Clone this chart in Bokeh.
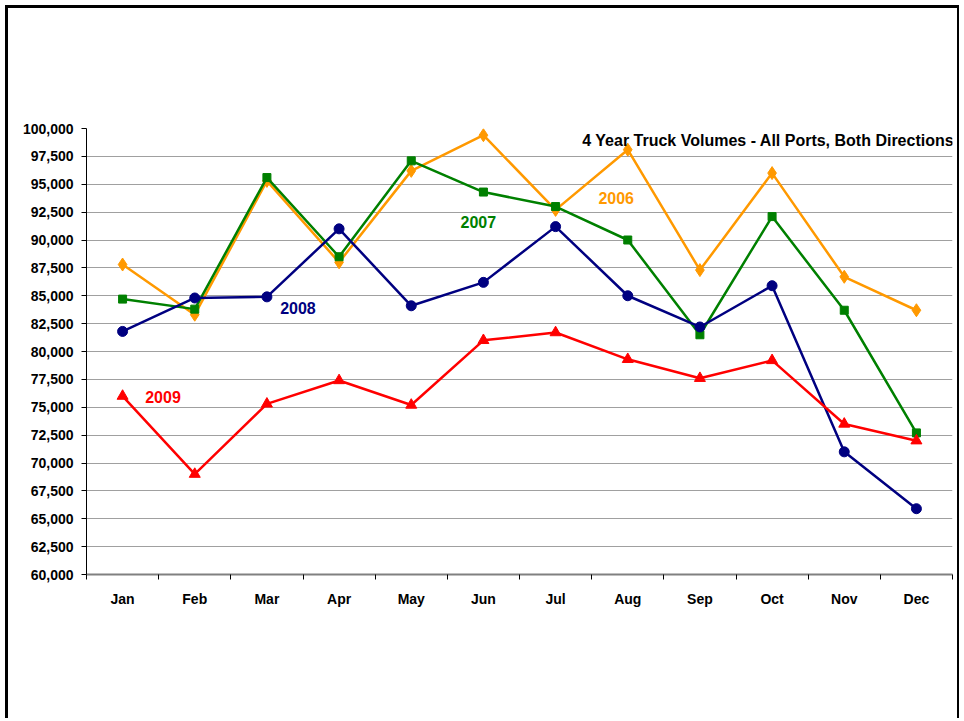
from bokeh.plotting import figure
from bokeh.models import (Range1d, FixedTicker, NumeralTickFormatter, Label,
                          ColumnDataSource)
from bokeh.embed import file_html
from bokeh.resources import INLINE

months = ["Jan", "Feb", "Mar", "Apr", "May", "Jun",
          "Jul", "Aug", "Sep", "Oct", "Nov", "Dec"]
v2006 = [87800, 83300, 95300, 88000, 96200, 99400, 92700, 98100, 87300, 96000, 86700, 83700]
v2007 = [84700, 83800, 95600, 88500, 97100, 94300, 93000, 90000, 81500, 92100, 83700, 72700]
v2008 = [81800, 84800, 84900, 91000, 84100, 86200, 91200, 85000, 82200, 85900, 71000, 65900]
v2009 = [76000, 69000, 75300, 77400, 75200, 81000, 81700, 79300, 77600, 79200, 73500, 72000]
y_ticks = list(range(60000, 100001, 2500))
title_text = "4 Year Truck Volumes - All Ports, Both Directions"

FONT = "Liberation Sans"
xpos = [i + 0.5 for i in range(len(months))]
src = ColumnDataSource(dict(x=xpos, m=months, a=v2006, b=v2007, c=v2008, d=v2009))

W, H = 954, 713
p = figure(width=W, height=H, output_backend="svg", toolbar_location=None,
           x_range=Range1d(0, len(months)), y_range=Range1d(60000, 100000),
           min_border_left=78, min_border_right=10, min_border_top=120,
           min_border_bottom=H - 120 - 446)
p.margin = (5, 0, 0, 5)
p.styles = {"border-left": "3px solid black", "border-top": "3px solid black",
            "border-right": "2px solid black"}
p.outline_line_color = None
p.background_fill_color = "white"
p.border_fill_color = "white"

# grid
p.xgrid.grid_line_color = None
p.ygrid.grid_line_color = "#a0a0a0"
p.ygrid.grid_line_width = 1
p.ygrid.ticker = FixedTicker(ticks=y_ticks)

# y axis
ya = p.yaxis[0]
ya.ticker = FixedTicker(ticks=y_ticks)
ya.formatter = NumeralTickFormatter(format="0,0")
ya.axis_line_color = "black"
ya.axis_line_width = 1
ya.major_tick_out = 5
ya.major_tick_in = 0
ya.minor_tick_line_color = None
ya.major_label_text_font = FONT
ya.major_label_text_font_style = "bold"
ya.major_label_text_font_size = "14px"
ya.major_label_text_color = "black"
ya.major_label_standoff = 8

# x axis
xa = p.xaxis[0]
xa.ticker = FixedTicker(ticks=xpos, minor_ticks=list(range(len(months) + 1)))
xa.major_label_overrides = {x: m for x, m in zip(xpos, months)}
xa.major_tick_line_color = None
xa.minor_tick_line_color = "black"
xa.minor_tick_out = 5
xa.minor_tick_in = 0
xa.axis_line_color = "#808080"
xa.axis_line_width = 2
xa.major_label_text_font = FONT
xa.major_label_text_font_style = "bold"
xa.major_label_text_font_size = "14px"
xa.major_label_text_color = "black"
xa.major_label_standoff = 10

# series
series = [("a", "#FF9900", "diamond", 13),
          ("b", "#008000", "square", 8),
          ("c", "#000080", "circle", 10),
          ("d", "#FF0000", "triangle", 11)]
for col, color, marker, size in series:
    p.line("x", col, source=src, line_color=color, line_width=2.5)
    p.scatter("x", col, source=src, marker=marker, size=size,
              fill_color=color, line_color=color)

# labels
for txt, x, y, color in [("2009", 1.06, 75960, "#FF0000"),
                         ("2008", 2.93, 83860, "#000080"),
                         ("2007", 5.43, 91610, "#008000"),
                         ("2006", 7.34, 93740, "#FF9900")]:
    p.add_layout(Label(x=x, y=y, text=txt, text_align="center", text_baseline="middle",
                       text_font=FONT, text_font_style="bold", text_font_size="16px",
                       text_color=color))

p.add_layout(Label(x=len(months), y=98750, x_offset=2, y_offset=2, text=title_text,
                   text_align="right", text_baseline="middle",
                   text_font=FONT, text_font_style="bold", text_font_size="16px",
                   text_color="black"))

open("out.html", "w").write(file_html(p, INLINE))
